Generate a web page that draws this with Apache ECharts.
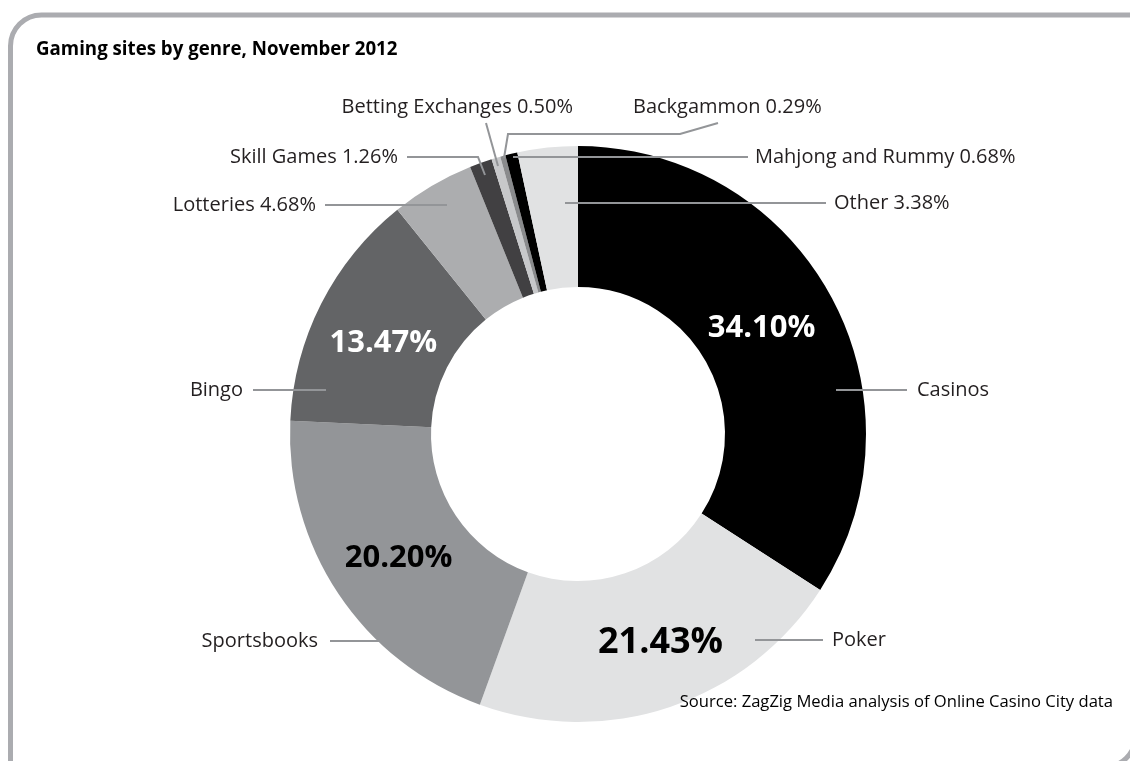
<!DOCTYPE html>
<html>
<head>
<meta charset="utf-8">
<style>
  html, body { margin: 0; padding: 0; background: #ffffff; }
  #chart { width: 1130px; height: 761px; }
</style>
<script src="https://cdn.jsdelivr.net/npm/echarts@6/dist/echarts.min.js"></script>
</head>
<body>
<div id="chart"></div>
<script>
// ---- data ----
const categories = ['Casinos', 'Poker', 'Sportsbooks', 'Bingo', 'Lotteries', 'Skill Games',
                    'Betting Exchanges', 'Backgammon', 'Mahjong and Rummy', 'Other'];
const shares = [34.10, 21.43, 20.20, 13.47, 4.68, 1.26, 0.50, 0.29, 0.68, 3.38];
const titleText = 'Gaming sites by genre, November 2012';
const sourceText = 'Source: ZagZig Media analysis of Online Casino City data';

// ---- styles ----
const sliceColors = ['#000000', '#e1e2e3', '#939598', '#636466', '#acadaf', '#414042',
                     '#c7c8ca', '#8a8b8d', '#000000', '#e1e2e3'];
const insideLabelColors = ['#ffffff', '#000000', '#000000', '#ffffff'];
const insideLabelSizes = [31, 36, 31, 31];
const insideLabelShift = [[-10, 0], [12, 0], [4, 2], [2, 9]];
const FONT = '"Open Sans", "Noto Sans", sans-serif';
const LINE_COLOR = '#939598';

// ---- annotation placement (label anchor + leader line) ----
const guideLayout = {
  'Casinos':           { x: 917, y: 390, align: 'left',   pts: [[836, 390], [907, 390]] },
  'Poker':             { x: 832, y: 640, align: 'left',   pts: [[755, 640], [823, 640]] },
  'Sportsbooks':       { x: 318, y: 641, align: 'right',  pts: [[398, 641], [330, 641]] },
  'Bingo':             { x: 243, y: 390, align: 'right',  pts: [[326, 390], [253, 390]] },
  'Lotteries':         { x: 316, y: 205, align: 'right',  pts: [[447, 205], [325, 205]] },
  'Skill Games':       { x: 398, y: 157, align: 'right',  pts: [[485, 175], [478, 157], [407, 157]] },
  'Betting Exchanges': { x: 573, y: 107, align: 'right',  pts: [[498, 166], [486, 123]] },
  'Backgammon':        { x: 633, y: 107, align: 'left',   pts: [[504, 158], [508, 134], [680, 134], [718, 123]] },
  'Mahjong and Rummy': { x: 755, y: 157, align: 'left',   pts: [[513, 157], [748, 157]] },
  'Other':             { x: 834, y: 203, align: 'left',   pts: [[565, 203], [826, 203]] }
};

const pieData = categories.map((name, i) => ({
  name: name,
  value: shares[i],
  itemStyle: { color: sliceColors[i] },
  label: {
    show: shares[i] >= 10,
    color: insideLabelColors[i] || '#000',
    fontSize: insideLabelSizes[i] || 31
  }
}));

const chart = echarts.init(document.getElementById('chart'), null, { renderer: 'canvas' });
const CENTER = [578, 434];
const RADIUS = [147, 288];

chart.setOption({
  animation: false,
  backgroundColor: '#ffffff',
  graphic: [
    {
      type: 'rect',
      shape: { x: 10.5, y: 15, width: 1125, height: 752, r: [31, 0, 31, 0] },
      style: { fill: 'none', stroke: '#abacb0', lineWidth: 5 },
      silent: true, z: 0
    },
    {
      type: 'text', left: 36, top: 40, z: 10,
      style: { text: titleText, font: 'bold 18.7px ' + FONT, fill: '#000000' }
    },
    {
      type: 'text', right: 17, top: 694, z: 10,
      style: { text: sourceText, font: '16.6px ' + FONT, fill: '#000000' }
    }
  ],
  series: [
    {
      type: 'pie',
      center: CENTER,
      radius: RADIUS,
      startAngle: 90,
      clockwise: true,
      avoidLabelOverlap: false,
      silent: true,
      data: pieData,
      itemStyle: { borderWidth: 0 },
      label: {
        position: 'inside',
        fontFamily: FONT,
        fontWeight: 'bold',
        fontSize: 31,
        formatter: p => p.value.toFixed(2) + '%'
      },
      labelLine: { show: false },
      labelLayout: function (params) {
        const s = insideLabelShift[params.dataIndex] || [0, 0];
        return { dx: s[0], dy: s[1] };
      },
      z: 2
    },
    {
      type: 'pie',
      center: CENTER,
      radius: RADIUS,
      startAngle: 90,
      clockwise: true,
      avoidLabelOverlap: false,
      silent: true,
      data: categories.map((name, i) => ({ name: name, value: shares[i] })),
      itemStyle: { color: 'rgba(0,0,0,0)', borderWidth: 0 },
      label: {
        show: true,
        position: 'outside',
        fontFamily: FONT,
        fontSize: 20,
        color: '#231f20',
        formatter: p => p.value >= 10 ? p.name : p.name + ' ' + p.value.toFixed(2) + '%'
      },
      labelLine: {
        show: true,
        length: 10,
        length2: 10,
        smooth: false,
        lineStyle: { color: LINE_COLOR, width: 2 }
      },
      labelLayout: function (params) {
        const g = guideLayout[categories[params.dataIndex]];
        return {
          x: g.x,
          y: g.y,
          align: g.align,
          verticalAlign: 'middle',
          labelLinePoints: g.pts
        };
      },
      z: 3
    }
  ]
});
</script>
</body>
</html>
